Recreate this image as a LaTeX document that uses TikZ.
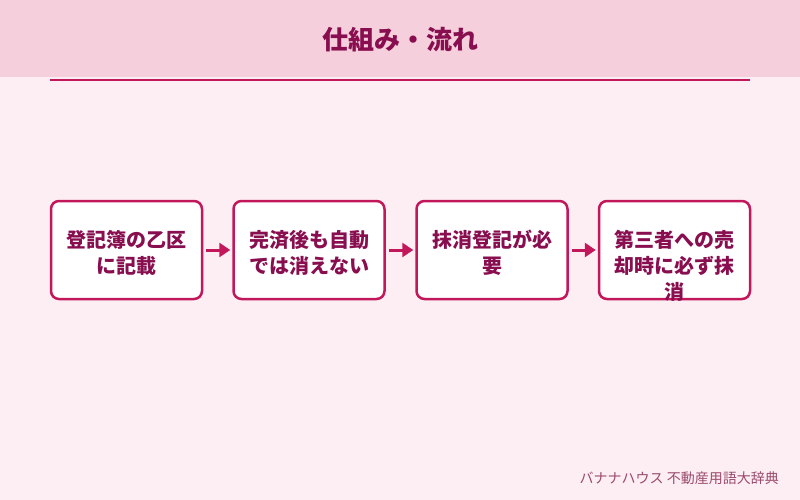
\documentclass[tikz,border=0pt]{standalone}
\usepackage{fontspec}
\setmainfont{Noto Sans CJK JP}
\usepackage{tikz}
\usetikzlibrary{arrows.meta,positioning,calc}
\definecolor{bandpink}{HTML}{F6CFDD}
\definecolor{paperpink}{HTML}{FDEEF3}
\definecolor{accent}{HTML}{C2185B}
\definecolor{deepwine}{HTML}{880E4F}
\definecolor{footgray}{HTML}{9A4A6C}

\begin{document}
\begin{tikzpicture}[x=1pt, y=-1pt,
        stepbox/.style={draw=accent, line width=2.5pt, fill=white, rounded corners=8pt, minimum width=151pt, minimum height=98pt},
        steptext/.style={anchor=north, inner sep=0pt, align=center, text=deepwine, font=\fontsize{20}{26}\selectfont\bfseries},
        flow/.style={draw=accent, line width=3pt, -{Triangle[length=11pt,width=14pt]}}]
        \useasboundingbox (0,0) rectangle (800,500);
        \fill[paperpink] (0,0) rectangle (800,500);
        \fill[bandpink] (0,0) rectangle (800,77);
        \draw[accent, line width=2pt] (50,80) -- (750,80);
        \node[text=deepwine, font=\fontsize{26}{30}\selectfont\bfseries] (title) at (400,40) {仕組み・流れ};

        \node[stepbox] (b1) at (126.5,250) {};
        \node[stepbox] (b2) at (309,250) {};
        \node[stepbox] (b3) at (492,250) {};
        \node[stepbox] (b4) at (674.5,250) {};

        \node[steptext] (t1) at ($(b1.north)+(0,30)$) {登記簿の乙区\\に記載};
        \node[steptext] (t2) at ($(b2.north)+(0,30)$) {完済後も自動\\では消えない};
        \node[steptext] (t3) at ($(b3.north)+(0,30)$) {抹消登記が必\\要};
        \node[steptext] (t4) at ($(b4.north)+(0,30)$) {第三者への売\\却時に必ず抹\\消};

        \draw[flow] ([xshift=3pt]b1.east) -- ([xshift=-2pt]b2.west);
        \draw[flow] ([xshift=3pt]b2.east) -- ([xshift=-2pt]b3.west);
        \draw[flow] ([xshift=3pt]b3.east) -- ([xshift=-2pt]b4.west);

        \node[anchor=east, inner sep=0pt, text=footgray, font=\fontsize{14}{16}\selectfont] (credit) at (779,478) {バナナハウス 不動産用語大辞典};
    \end{tikzpicture}
\end{document}
